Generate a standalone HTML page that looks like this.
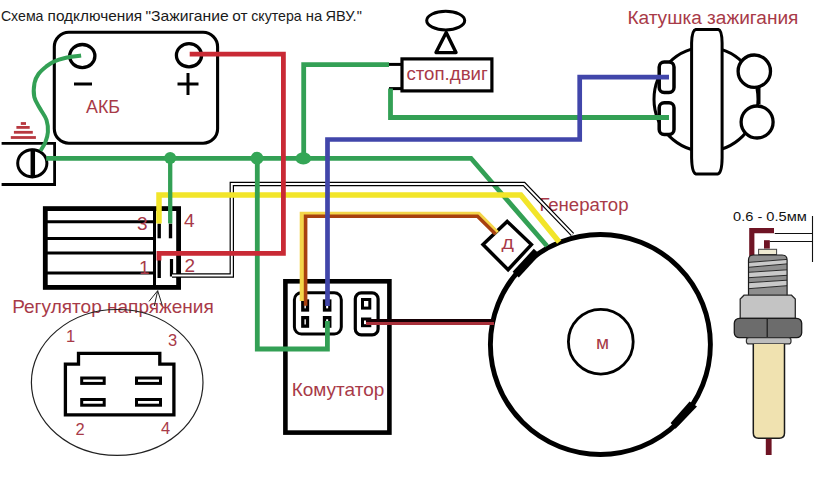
<!DOCTYPE html>
<html><head><meta charset="utf-8">
<style>
html,body{margin:0;padding:0;background:#fff;}
svg{display:block;}
text{font-family:"Liberation Sans",sans-serif;}
.rt{fill:#a83a48;}
</style></head>
<body>
<svg width="821" height="484" viewBox="0 0 821 484">
<rect x="0" y="0" width="821" height="484" fill="#fff"/>

<!-- title -->
<g font-size="14.3" fill="#1a1a1a"><text x="0.9" y="20.7" textLength="42.6" lengthAdjust="spacingAndGlyphs">Схема</text><text x="47.6" y="20.7" textLength="94.5" lengthAdjust="spacingAndGlyphs">подключения</text><text x="145.4" y="20.7" textLength="83.4" lengthAdjust="spacingAndGlyphs">"Зажигание</text><text x="232.2" y="20.7" textLength="15.3" lengthAdjust="spacingAndGlyphs">от</text><text x="251.3" y="20.7" textLength="50.4" lengthAdjust="spacingAndGlyphs">скутера</text><text x="305.8" y="20.7" textLength="16.5" lengthAdjust="spacingAndGlyphs">на</text><text x="325.6" y="20.7" textLength="36.2" lengthAdjust="spacingAndGlyphs">ЯВУ."</text></g>

<!-- battery -->
<g fill="none" stroke="#000" stroke-width="3">
<rect x="54.3" y="32.3" width="163.3" height="110.9" rx="14.5" stroke-width="3.1"/>
<ellipse cx="82.3" cy="56.1" rx="12.6" ry="11.6" stroke-width="3.3"/>
<ellipse cx="189" cy="55.3" rx="12.6" ry="11.6" stroke-width="3.3"/>
<line x1="74" y1="84" x2="92" y2="84"/>
<line x1="177.5" y1="84" x2="198.5" y2="84"/>
<line x1="188" y1="73" x2="188" y2="95"/>
</g>
<text x="86" y="112.8" font-size="18" class="rt" textLength="34" lengthAdjust="spacingAndGlyphs">АКБ</text>

<!-- ground symbol -->
<g stroke="#b83840" stroke-width="2.8">
<line x1="20.8" y1="123.5" x2="26" y2="123.5"/>
<line x1="16.4" y1="127.4" x2="29.7" y2="127.4"/>
<line x1="13.9" y1="132.3" x2="32.8" y2="132.3"/>
<line x1="10.8" y1="137.5" x2="35.9" y2="137.5"/>
</g>
<!-- ground box -->
<g fill="none" stroke="#000" stroke-width="3">
<polyline points="1.6,143.4 54.6,143.4 54.6,184.5 1.6,184.5" stroke-width="2.8"/>
<ellipse cx="32.3" cy="163.3" rx="14.6" ry="13.6"/>
</g>
<line x1="32.8" y1="148.8" x2="32.8" y2="176.7" stroke="#000" stroke-width="4.5"/>

<!-- stop engine -->
<g fill="none" stroke="#000" stroke-width="3">
<ellipse cx="445.7" cy="20.6" rx="19" ry="9.3"/>
<polygon points="446.2,32.5 436,52.6 456,52.6" stroke-width="3.4" stroke-linejoin="round"/>
<rect x="402" y="58.9" width="89.9" height="32" stroke-width="3.2"/>
<line x1="388" y1="64.4" x2="402" y2="64.4"/>
<line x1="389" y1="88.6" x2="402" y2="88.6"/>
</g>
<text x="406.4" y="80" font-size="19" class="rt" textLength="81.4" lengthAdjust="spacingAndGlyphs">стоп.двиг</text>

<!-- ignition coil -->
<g fill="none" stroke="#000" stroke-width="3">
<circle cx="706" cy="99.3" r="52"/>
<circle cx="754.3" cy="71.2" r="16.2" fill="#fff" stroke-width="3.3"/>
<circle cx="757.1" cy="122" r="16" fill="#fff" stroke-width="3.3"/>
<line x1="759" y1="87" x2="759" y2="104"/>
<path d="M695.7,29.5 H718.4 C721,30 722,36 722.1,43 V158 C722,166 721,173 718,173.9 H695.7 C693,173 691.8,166 691.6,158 V43 C691.8,36 693,30 695.7,29.5 Z" fill="#fff"/>
<rect x="659.2" y="62" width="14.8" height="30.5" rx="5" fill="#fff" stroke-width="3.5"/>
<rect x="659.2" y="102.8" width="14.8" height="31.8" rx="5" fill="#fff" stroke-width="3.5"/>
</g>
<text x="627.4" y="23.7" font-size="18" class="rt" textLength="171" lengthAdjust="spacingAndGlyphs">Катушка зажигания</text>

<!-- regulator -->
<g fill="none" stroke="#000">
<rect x="45.3" y="208.6" width="133.3" height="78.8" stroke-width="4.8"/>
<line x1="43" y1="221.8" x2="155" y2="221.8" stroke-width="3"/>
<line x1="43" y1="238.5" x2="155" y2="238.5" stroke-width="3"/>
<line x1="43" y1="253" x2="155" y2="253" stroke-width="3"/>
<line x1="43" y1="273" x2="155" y2="273" stroke-width="3"/>
<line x1="154.5" y1="207" x2="154.5" y2="288" stroke-width="3"/>
<line x1="159.2" y1="223.6" x2="159.2" y2="238.3" stroke-width="3.4"/>
<line x1="170.5" y1="223.6" x2="170.5" y2="238.3" stroke-width="3.4"/>
<line x1="159.2" y1="258" x2="159.2" y2="278" stroke-width="3.4"/>
<line x1="171.5" y1="259" x2="171.5" y2="276.5" stroke-width="3.2"/>
</g>
<g class="rt" font-size="19">
<text x="137" y="230">3</text>
<text x="184" y="226.7">4</text>
<text x="139" y="273.5">1</text>
<text x="184.5" y="271.6">2</text>
</g>
<text x="12.2" y="313" font-size="18.5" class="rt" textLength="201.6" lengthAdjust="spacingAndGlyphs">Регулятор напряжения</text>
<!-- callout lines -->
<g stroke="#222" stroke-width="1" fill="none">
<line x1="157.7" y1="290.7" x2="149" y2="301.4"/>
<line x1="157.7" y1="290.7" x2="154.3" y2="306"/>
<line x1="157.7" y1="290.7" x2="162.3" y2="305.5"/>
<ellipse cx="117.2" cy="382.4" rx="85.8" ry="72.9" stroke-width="1.2"/>
</g>
<!-- connector diagram -->
<g fill="none" stroke="#000" stroke-width="3">
<polygon points="65.4,414.9 65.4,364.1 78.5,364.1 78.5,353.4 159.8,353.4 159.8,364.1 173.9,364.1 173.9,414.9" stroke-width="3.3"/>
<g stroke-width="3">
<rect x="81.7" y="378" width="22.5" height="5.4"/>
<rect x="81.7" y="399.5" width="22.5" height="5.7"/>
<rect x="136.5" y="378" width="24" height="5.4"/>
<rect x="136.5" y="399.5" width="24" height="5.7"/>
</g>
</g>
<g class="rt" font-size="16.5">
<text x="66" y="342.3">1</text>
<text x="168" y="346">3</text>
<text x="75.5" y="435.2">2</text>
<text x="161" y="434">4</text>
</g>

<!-- commutator -->
<g fill="none" stroke="#000">
<rect x="285.4" y="281.3" width="104" height="151.3" stroke-width="4.6"/>
<rect x="294.4" y="292.7" width="46.9" height="41.3" rx="7" stroke-width="3"/>
<rect x="355.3" y="292.8" width="22.8" height="42.1" rx="6" stroke-width="3.2"/>
<g stroke-width="3">
<rect x="302.8" y="301" width="4.7" height="9" stroke-width="3.3"/>
<rect x="324.5" y="301" width="5.3" height="9" stroke-width="3.3"/>
<rect x="302.8" y="317.65" width="4.7" height="8.5" stroke-width="3.3"/>
<rect x="324.5" y="317.65" width="5.3" height="8.5" stroke-width="3.3"/>
<rect x="362.5" y="299.5" width="7.3" height="8.6"/>
<rect x="362.5" y="319" width="7.3" height="6.7"/>
</g>
</g>
<text x="291.7" y="395.6" font-size="19" class="rt" textLength="92.7" lengthAdjust="spacingAndGlyphs">Комутатор</text>

<!-- generator -->
<g fill="none" stroke="#000">
<circle cx="600.4" cy="344.5" r="110" stroke-width="4.9"/>
<circle cx="600.8" cy="341.7" r="32.4" stroke-width="2.8"/>
<polygon points="507.2,221.4 531.4,244.6 508.1,269.7 483,244.6" stroke-width="3.5"/>
</g>
<polygon points="512.6,271.8 518.8,277.4 540,254.4 533.8,248.8" fill="#000"/>
<polygon points="670.6,422.9 675.5,428.7 697,406.4 689.6,401.4" fill="#000"/>
<text x="501.6" y="249.4" font-size="14.8" class="rt" textLength="12.4" lengthAdjust="spacingAndGlyphs">Д</text>
<text x="596" y="348.9" font-size="19" class="rt">м</text>
<text x="539.4" y="210.9" font-size="17.5" class="rt" textLength="89.2" lengthAdjust="spacingAndGlyphs">Генератор</text>

<!-- wires -->
<g fill="none" stroke-linejoin="miter" stroke-linecap="butt">
<path d="M46.2,158.3 H471 L547,246" stroke="#33a055" stroke-width="4.8"/>
<!-- double white wire -->
<path d="M172,275.5 H231.8 V184 H524 L572.5,234.5" stroke="#000" stroke-width="4.4"/>
<path d="M172,275.5 H231.8 V184 H524 L572.5,234.5" stroke="#fff" stroke-width="2"/>
<!-- yellow -->
<path d="M159,223.4 V195 H520.8 L559.2,242" stroke="#f2e52a" stroke-width="5.5"/>
<!-- green -->
<g stroke="#33a055" stroke-width="4.8">
<path d="M81.1,55.6 C78.4,56.0 69.6,57.0 65,58 C60.4,59.0 56.7,60.3 53.5,61.8 C50.3,63.2 48.5,64.7 46,66.7 C43.5,68.7 40.4,71.3 38.5,74 C36.6,76.7 35.2,79.2 34.5,83 C33.8,86.8 33.4,92.8 34.3,97 C35.2,101.2 38.0,104.7 40,108.5 C42.0,112.3 45.2,116.0 46.5,120 C47.8,124.0 48.1,128.5 47.9,132.2 C47.7,135.9 46.6,139.0 45.4,142.1 C44.2,145.2 41.3,149.4 40.5,150.8" stroke-width="4"/>
<path d="M170.2,158.3 V223.4" stroke-width="4.3"/>
<path d="M257.3,158.3 V349 H327.4 V321"/>
<path d="M303.7,158.3 V64.6 H389"/>
<path d="M390.5,88.6 V117.5 H669"/>
</g>
<!-- orange two-tone -->
<path d="M302.3,301 V214.3 H478.5 L497,233" stroke="#f4d54a" stroke-width="5.2"/>
<path d="M305.6,305.8 V216.3 H477.5 L495.5,234" stroke="#a8400f" stroke-width="3.6"/>
<!-- red -->
<path d="M189.7,54.2 H283.4 V253.4 H159 V260.6" stroke="#c92a35" stroke-width="4.8"/>
<!-- blue -->
<path d="M327.5,306 V139.5 H579.7 V77.1 H669" stroke="#4146aa" stroke-width="4.7"/>
<!-- dark red -->
<path d="M366,320.4 H494" stroke="#150004" stroke-width="3"/><path d="M366,323.5 H494" stroke="#a8303a" stroke-width="3"/>
</g>
<!-- junction dots -->
<g fill="#34a656">
<circle cx="170.2" cy="158" r="6"/>
<ellipse cx="257" cy="158.2" rx="6.4" ry="6.4"/>
<ellipse cx="303.3" cy="158.4" rx="7.8" ry="6.2"/>
</g>

<!-- spark plug -->
<text x="733" y="221.4" font-size="13.2" fill="#111" textLength="73.8" lengthAdjust="spacingAndGlyphs">0.6 - 0.5мм</text>
<g stroke="#111" stroke-width="1.1">
<line x1="812.5" y1="216" x2="812.5" y2="262"/>
<line x1="774.7" y1="233.5" x2="812.5" y2="233.5"/>
<line x1="769.6" y1="241.5" x2="812.5" y2="241.5"/>
</g>
<path d="M751.8,256 V230.7 H774" stroke="#6e1424" stroke-width="5.2" fill="none"/>
<rect x="764" y="240.2" width="5.8" height="8.4" fill="#6e1424"/>
<rect x="758.6" y="249.3" width="18" height="5.2" fill="#efead2" stroke="#444" stroke-width="1"/>
<defs><clipPath id="thr"><path d="M748.5,295.5 V260 Q748.5,255 753.5,255 H782.1 Q787.1,255 787.1,260 V295.5 Z"/></clipPath></defs>
<g clip-path="url(#thr)"><polygon points="748.5,255 787.1,255 787.1,259.4 748.5,262.4" fill="#8e8e8e"/><polygon points="748.5,262.4 787.1,259.4 787.1,263.9 748.5,267.3" fill="#c9c9c9"/><polygon points="748.5,267.3 787.1,263.9 787.1,269.8 748.5,272.3" fill="#8e8e8e"/><polygon points="748.5,272.3 787.1,269.8 787.1,275.3 748.5,277.7" fill="#c9c9c9"/><polygon points="748.5,277.7 787.1,275.3 787.1,280.2 748.5,282.7" fill="#8e8e8e"/><polygon points="748.5,282.7 787.1,280.2 787.1,285.7 748.5,288.7" fill="#c9c9c9"/><polygon points="748.5,288.7 787.1,285.7 787.1,295.5 748.5,295.5" fill="#8e8e8e"/><g stroke="#2a2a2a" stroke-width="1"><line x1="748.5" y1="262.4" x2="787.1" y2="259.4"/><line x1="748.5" y1="267.3" x2="787.1" y2="263.9"/><line x1="748.5" y1="272.3" x2="787.1" y2="269.8"/><line x1="748.5" y1="277.7" x2="787.1" y2="275.3"/><line x1="748.5" y1="282.7" x2="787.1" y2="280.2"/><line x1="748.5" y1="288.7" x2="787.1" y2="285.7"/></g></g>
<path d="M748.5,295.5 V260 Q748.5,255 753.5,255 H782.1 Q787.1,255 787.1,260 V295.5" fill="none" stroke="#1a1a1a" stroke-width="1.2"/>
<path d="M740.2,318.3 V299 L744,295.2 H791.5 L795.3,299 V318.3 Z" fill="#c4c4c4" stroke="#2a2a2a" stroke-width="1.3"/>
<rect x="734.3" y="318.3" width="67.4" height="19.4" rx="5" fill="#6c6c6c" stroke="#1a1a1a" stroke-width="1.3"/>
<line x1="767.2" y1="318.3" x2="767.2" y2="337.7" stroke="#1a1a1a" stroke-width="1.2"/>
<rect x="746.4" y="337.7" width="44.6" height="6.2" rx="2.5" fill="#bdbdbd" stroke="#333" stroke-width="1.2"/>
<path d="M753.3,343.9 V433 Q753.3,438.2 758.5,438.2 H779.3 Q784.5,438.2 784.5,433 V343.9" fill="#f0e2b0" stroke="#1a1a1a" stroke-width="1.5"/>
<rect x="765.8" y="438.9" width="5.8" height="16.1" fill="#6e1424"/>

</svg>
</body></html>
